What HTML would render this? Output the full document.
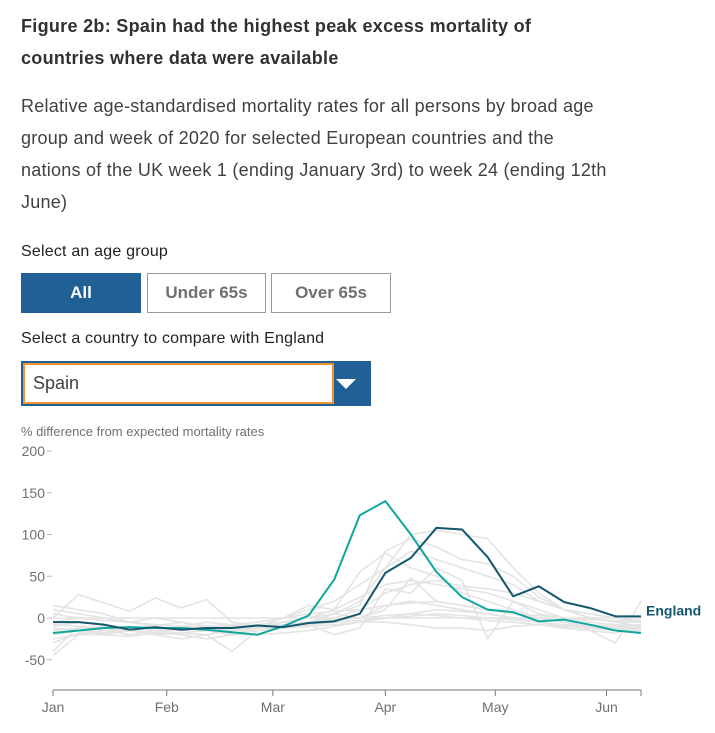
<!DOCTYPE html>
<html><head><meta charset="utf-8">
<style>
body{margin:0;width:715px;height:733px;background:#fff;font-family:"Liberation Sans",sans-serif;color:#222;position:relative;overflow:hidden}
.abs{position:absolute}
h1{position:absolute;left:21px;top:10px;margin:0;font-size:18px;line-height:32px;font-weight:bold;color:#323132;width:620px;letter-spacing:0.3px}
.desc{left:21px;top:90px;width:680px;font-size:18px;line-height:32px;color:#414042;letter-spacing:0.25px}
.lbl{font-size:16px;color:#222;letter-spacing:0.2px}
.btn{box-sizing:border-box;height:40px;font-size:17px;font-weight:bold;text-align:center;line-height:38px;border:1px solid #999;color:#707071;background:#fff}
</style></head><body>
<h1>Figure 2b: Spain had the highest peak excess mortality of<br>countries where data were available</h1>
<div class="abs desc">Relative age-standardised mortality rates for all persons by broad age<br>group and week of 2020 for selected European countries and the<br>nations of the UK week 1 (ending January 3rd) to week 24 (ending 12th<br>June)</div>
<div class="abs lbl" style="left:21px;top:243px">Select an age group</div>
<div class="abs btn" style="left:21px;top:273px;width:120px;background:#206095;border-color:#206095;color:#fff">All</div>
<div class="abs btn" style="left:147px;top:273px;width:119px">Under 65s</div>
<div class="abs btn" style="left:271px;top:273px;width:120px">Over 65s</div>
<div class="abs lbl" style="left:21px;top:330px">Select a country to compare with England</div>
<div class="abs" style="left:21px;top:361px;width:350px;height:45px;background:#206095">
  <div class="abs" style="left:2px;top:2px;width:299px;height:37px;background:#fff;border:2px solid #f39431;font-size:18px;line-height:37px;padding-left:8px;color:#414042;box-sizing:content-box">Spain</div>
  <div class="abs" style="left:315px;top:18px;width:0;height:0;border-left:10px solid transparent;border-right:10px solid transparent;border-top:10px solid #fff"></div>
</div>
<svg class="abs" style="left:0;top:0" width="715" height="733" id="chart"></svg>
<script>
const yTicks=[200,150,100,50,0,-50];
const months=["Jan","Feb","Mar","Apr","May","Jun"];
const monthWeeks=[0,4.45,8.6,13,17.3,21.65];
const england=[-5,-5,-8,-14,-11,-14,-12,-12,-9,-11,-6,-4,5,54,72,108,106,73,26,38,19,12,2,2];
const spain=[-18,-15,-12,-11,-12,-12,-14,-17,-20,-10,3,46,123,140,100,55,25,10,7,-4,-2,-8,-15,-18];
const others=[
[15,10,5,-5,0,-5,-10,-15,-10,0,10,20,40,60,80,70,60,50,40,20,10,5,0,-5],
[-40,-10,-15,-20,-15,-20,-25,-20,-15,-10,-5,5,20,60,100,105,100,95,60,30,10,0,-5,-10],
[0,28,18,8,24,12,22,-5,-10,0,15,10,55,78,60,50,30,20,10,0,-5,-10,-12,-15],
[-45,-20,-15,-15,-20,-25,-20,-15,-10,-5,0,10,25,40,45,40,35,30,20,5,0,-5,-8,-10],
[-20,-15,-20,-15,-18,-12,-15,-20,-10,-5,0,5,15,80,95,85,70,65,50,25,10,0,-5,-5],
[-10,-5,-8,-12,-10,-15,-12,-15,-12,-10,-5,0,10,30,40,45,38,35,30,20,10,5,0,-3],
[-5,0,-3,-5,-8,-10,-5,-8,-10,-8,-5,-2,0,10,48,20,15,10,5,0,-5,-8,-10,-12],
[5,0,-3,-5,-8,-10,-12,-10,-8,-5,0,5,0,15,20,15,10,5,0,-5,-8,-10,-12,-10],
[-15,-12,-10,-12,-15,-18,-20,-40,-15,-10,-8,-20,-12,35,30,60,45,-25,20,10,0,-15,-30,20],
[-25,-20,-20,-22,-18,-20,-25,-20,-20,-18,-15,-10,-5,0,5,10,8,5,0,-5,-10,-12,-15,-15],
[-8,-10,-12,-15,-12,-14,-12,-15,-12,-10,-8,-5,-3,0,2,5,3,0,-2,-5,-8,-10,-10,-8],
[-12,-15,-18,-15,-20,-18,-15,-18,-15,-12,-10,-8,-5,-5,-8,-12,-12,-15,-10,-8,-10,-12,-15,-12],
[0,0,0,0,0,0,0,0,0,0,0,0,0,0,0,0,0,0,0,0,0,0,0,0],
[10,5,0,-5,-10,-5,-10,-8,-5,0,5,8,10,15,18,20,15,10,5,3,0,-2,-3,-5],
[-30,-18,-12,-10,-15,-12,-10,-12,-15,-12,-8,-3,0,3,5,3,0,-3,-5,-8,-12,-15,-18,-8]
];
const NS="http://www.w3.org/2000/svg";
const svg=document.getElementById('chart');
const x0=53,x1=641,yZero=618,pxPer=0.835;
const xs=i=>x0+i*(x1-x0)/23;
const ys=v=>yZero-v*pxPer;
function mk(t,a){const e=document.createElementNS(NS,t);for(const k in a)e.setAttribute(k,a[k]);svg.appendChild(e);return e;}
const yt=mk('text',{x:21,y:436,'font-size':13,fill:'#707071','font-family':'Liberation Sans, sans-serif'});
yt.textContent='% difference from expected mortality rates';


yTicks.forEach(v=>{
  const t=mk('text',{x:45,y:ys(v)+5,'text-anchor':'end','font-size':14,fill:'#707071','font-family':'Liberation Sans, sans-serif'});
  t.textContent=v;
  
  
  const l=mk('line',{x1:47,x2:52,y1:ys(v),y2:ys(v),stroke:'#bbb'});
  
  
});
const ax=mk('line',{x1:x0,x2:x1,y1:690,y2:690,stroke:'#777'});


mk('line',{x1:x1,x2:x1,y1:690,y2:696,stroke:'#777'});
months.forEach((m,i)=>{
  const x=xs(monthWeeks[i]);
  const l=mk('line',{x1:x,x2:x,y1:690,y2:696,stroke:'#777'});
  
  
  const t=mk('text',{x:x,y:712,'text-anchor':'middle','font-size':14,fill:'#707071','font-family':'Liberation Sans, sans-serif'});
  t.textContent=m;
  
  
});
function line(d,color,w){
  return mk('polyline',{points:d.map((v,i)=>xs(i)+','+ys(v)).join(' '),fill:'none',stroke:color,'stroke-width':w,'stroke-linejoin':'round'});
}
others.forEach(d=>{
  const p=line(d,'#e4e4e4',1.6);
  
  
});
const sp=line(spain,'#0fa69d',2);


const en=line(england,'#13576f',2);


const el=mk('text',{x:646,y:ys(england[23])-1,'font-size':14,'font-weight':'bold',fill:'#13576f','font-family':'Liberation Sans, sans-serif'});
el.textContent='England';


</script>
</body></html>
